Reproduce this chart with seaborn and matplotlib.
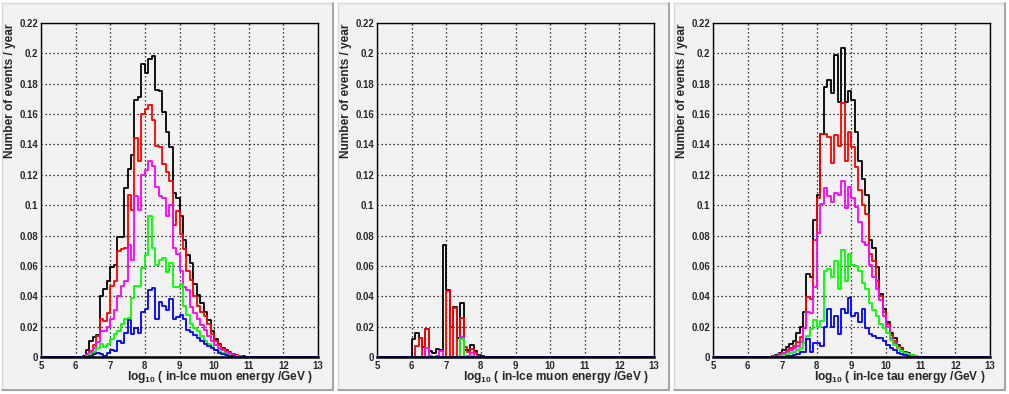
import numpy as np
import pandas as pd
import matplotlib
matplotlib.use("Agg")
import matplotlib.pyplot as plt
import seaborn as sns
from matplotlib.patches import Rectangle
from matplotlib.lines import Line2D
from matplotlib.ticker import MultipleLocator

# ---- data: events / year per 0.1 bin, bins start at log10(E)=6.0 ---- #
bin_start = 6.0
bin_width = 0.1

# panel 1: in-ice muon energy (nu_mu)
p1_black = [0.0, 0.0005, 0.001, 0.005, 0.0105, 0.0135, 0.0145, 0.040, 0.045, 0.050,
            0.0595, 0.061, 0.079, 0.079, 0.111, 0.124, 0.133, 0.169, 0.171, 0.193,
            0.187, 0.196, 0.198, 0.176, 0.175, 0.161, 0.148, 0.138, 0.108, 0.105,
            0.093, 0.077, 0.067, 0.062, 0.048, 0.041, 0.0355, 0.030, 0.0245, 0.017,
            0.012, 0.009, 0.006, 0.0048, 0.0033, 0.002, 0.0015, 0.001, 0.0006, 0.0003]
p1_red = [0.0, 0.0, 0.0005, 0.002, 0.004, 0.008, 0.014, 0.025, 0.024, 0.029,
          0.047, 0.050, 0.070, 0.071, 0.072, 0.107, 0.097, 0.144, 0.129, 0.160,
          0.163, 0.166, 0.156, 0.139, 0.138, 0.127, 0.122, 0.116, 0.087, 0.096,
          0.081, 0.071, 0.057, 0.051, 0.040, 0.034, 0.030, 0.027, 0.022, 0.015,
          0.011, 0.008, 0.0055, 0.004, 0.003, 0.002, 0.0012, 0.0008, 0.0004, 0.0002]
p1_magenta = [0.0, 0.0, 0.0003, 0.0015, 0.003, 0.006, 0.010, 0.017, 0.017, 0.020,
              0.025, 0.031, 0.040, 0.047, 0.050, 0.074, 0.064, 0.106, 0.097, 0.120,
              0.123, 0.129, 0.126, 0.112, 0.106, 0.105, 0.093, 0.100, 0.072, 0.068,
              0.057, 0.046, 0.044, 0.033, 0.029, 0.025, 0.021, 0.018, 0.014, 0.011,
              0.008, 0.006, 0.0045, 0.0033, 0.0025, 0.0015, 0.001, 0.0006, 0.0003, 0.0001]
p1_green = [0.0, 0.0, 0.0003, 0.001, 0.002, 0.0035, 0.006, 0.0085, 0.007, 0.009,
            0.012, 0.015, 0.017, 0.022, 0.025, 0.026, 0.039, 0.047, 0.047, 0.059,
            0.067, 0.093, 0.072, 0.061, 0.064, 0.065, 0.056, 0.062, 0.046, 0.046,
            0.048, 0.034, 0.028, 0.022, 0.019, 0.017, 0.014, 0.011, 0.009, 0.007,
            0.005, 0.004, 0.003, 0.002, 0.0015, 0.001, 0.0007, 0.0004, 0.0002, 0.0]
p1_blue = [0.0, 0.0, 0.0, 0.0005, 0.001, 0.002, 0.003, 0.002, 0.001, 0.003,
           0.005, 0.004, 0.0105, 0.0095, 0.016, 0.0245, 0.015, 0.019, 0.016, 0.030,
           0.0315, 0.0445, 0.0455, 0.0255, 0.0365, 0.034, 0.031, 0.0385, 0.0255, 0.0265,
           0.028, 0.025, 0.018, 0.0165, 0.0145, 0.0125, 0.011, 0.009, 0.0075, 0.006,
           0.0045, 0.003, 0.002, 0.0015, 0.001, 0.0006, 0.0003, 0.0, 0.0, 0.0]

# panel 2: in-ice muon energy (second channel)
p2_black = [0.012, 0.0158, 0.013, 0.0066, 0.0186, 0.0044, 0.0028, 0.0055, 0.0048, 0.0736,
            0.0442, 0.020, 0.033, 0.0124, 0.0357, 0.0045, 0.0045, 0.008, 0.0044, 0.0015,
            0.0009, 0.0005, 0.0003, 0.0002, 0.0001, 0.0, 0.0, 0.0, 0.0, 0.0,
            0.0, 0.0, 0.0, 0.0, 0.0, 0.0, 0.0, 0.0, 0.0, 0.0,
            0.0, 0.0, 0.0, 0.0, 0.0, 0.0, 0.0, 0.0, 0.0, 0.0]
p2_red = [0.0, 0.0074, 0.013, 0.0, 0.0183, 0.0005, 0.0005, 0.001, 0.0005, 0.0,
          0.0438, 0.0005, 0.0325, 0.0005, 0.0258, 0.007, 0.0035, 0.0055, 0.0025, 0.001,
          0.0008, 0.0005, 0.0002, 0.0, 0.0, 0.0, 0.0, 0.0, 0.0, 0.0,
          0.0, 0.0, 0.0, 0.0, 0.0, 0.0, 0.0, 0.0, 0.0, 0.0,
          0.0, 0.0, 0.0, 0.0, 0.0, 0.0, 0.0, 0.0, 0.0, 0.0]
p2_magenta = [0.0, 0.0, 0.0, 0.0, 0.006, 0.001, 0.0, 0.0, 0.0043, 0.0,
              0.0005, 0.0, 0.0, 0.0, 0.0135, 0.0, 0.001, 0.003, 0.0005, 0.0,
              0.0, 0.0, 0.0, 0.0, 0.0, 0.0, 0.0, 0.0, 0.0, 0.0,
              0.0, 0.0, 0.0, 0.0, 0.0, 0.0, 0.0, 0.0, 0.0, 0.0,
              0.0, 0.0, 0.0, 0.0, 0.0, 0.0, 0.0, 0.0, 0.0, 0.0]
p2_green = [0.0, 0.0, 0.0, 0.0, 0.0, 0.0, 0.0, 0.0005, 0.0005, 0.0,
            0.0, 0.0, 0.0, 0.0, 0.0123, 0.0, 0.0, 0.001, 0.0, 0.0,
            0.0, 0.0, 0.0, 0.0005, 0.0, 0.0, 0.0, 0.0, 0.0, 0.0,
            0.0, 0.0, 0.0, 0.0, 0.0, 0.0, 0.0, 0.0, 0.0, 0.0,
            0.0, 0.0, 0.0, 0.0, 0.0, 0.0, 0.0, 0.0, 0.0, 0.0]
p2_blue = [0.0, 0.0, 0.0, 0.0, 0.0, 0.0, 0.0, 0.0, 0.0, 0.0,
           0.0, 0.0, 0.0, 0.0, 0.0, 0.0, 0.0, 0.0, 0.0, 0.0,
           0.0008, 0.0004, 0.0, 0.0, 0.0, 0.0, 0.0, 0.0, 0.0, 0.0,
           0.0, 0.0, 0.0, 0.0, 0.0, 0.0, 0.0, 0.0, 0.0, 0.0,
           0.0, 0.0, 0.0, 0.0, 0.0, 0.0, 0.0, 0.0, 0.0, 0.0]

# panel 3: in-ice tau energy
p3_black = [0.0, 0.0, 0.0, 0.0, 0.0001, 0.0003, 0.0005, 0.0008, 0.0015, 0.003,
            0.005, 0.0065, 0.0085, 0.011, 0.016, 0.020, 0.030, 0.0545, 0.0525, 0.090,
            0.107, 0.147, 0.178, 0.182, 0.174, 0.199, 0.168, 0.2035, 0.168, 0.175,
            0.169, 0.148, 0.129, 0.117, 0.107, 0.077, 0.072, 0.0595, 0.0414, 0.032,
            0.0234, 0.0157, 0.0125, 0.008, 0.006, 0.0037, 0.0026, 0.0015, 0.0008, 0.0004]
p3_red = [0.0, 0.0, 0.0, 0.0, 0.0, 0.0, 0.0002, 0.0005, 0.001, 0.002,
          0.003, 0.0045, 0.006, 0.0075, 0.010, 0.0135, 0.0195, 0.0395, 0.0385, 0.077,
          0.105, 0.147, 0.147, 0.145, 0.128, 0.146, 0.139, 0.167, 0.129, 0.148,
          0.138, 0.125, 0.110, 0.100, 0.094, 0.068, 0.063, 0.050, 0.040, 0.030,
          0.022, 0.0145, 0.011, 0.0072, 0.0052, 0.0033, 0.0022, 0.0013, 0.0007, 0.0003]
p3_magenta = [0.0, 0.0, 0.0, 0.0, 0.0, 0.0002, 0.0004, 0.0006, 0.001, 0.0015,
              0.0025, 0.0035, 0.0045, 0.006, 0.0075, 0.010, 0.019, 0.0295, 0.029, 0.046,
              0.082, 0.101, 0.111, 0.106, 0.102, 0.108, 0.107, 0.116, 0.098, 0.112,
              0.105, 0.099, 0.089, 0.076, 0.074, 0.061, 0.053, 0.045, 0.038, 0.027,
              0.020, 0.013, 0.0095, 0.0062, 0.0042, 0.0028, 0.0018, 0.001, 0.0005, 0.0002]
p3_green = [0.0, 0.0, 0.0, 0.0, 0.0, 0.0001, 0.0002, 0.0003, 0.0005, 0.0008,
            0.0012, 0.0018, 0.0025, 0.0035, 0.0045, 0.006, 0.0095, 0.014, 0.0185, 0.0245,
            0.020, 0.024, 0.057, 0.058, 0.053, 0.063, 0.045, 0.0705, 0.050, 0.068,
            0.0605, 0.060, 0.057, 0.049, 0.045, 0.036, 0.031, 0.027, 0.022, 0.019,
            0.016, 0.0115, 0.008, 0.006, 0.004, 0.003, 0.002, 0.0012, 0.0007, 0.0003]
p3_blue = [0.0, 0.0, 0.0, 0.0, 0.0, 0.0, 0.0, 0.0, 0.0, 0.0003,
           0.0005, 0.0008, 0.001, 0.0015, 0.002, 0.0037, 0.0035, 0.012, 0.0037, 0.0095,
           0.0095, 0.0075, 0.020, 0.032, 0.020, 0.027, 0.0155, 0.032, 0.029, 0.039,
           0.027, 0.029, 0.023, 0.032, 0.019, 0.015, 0.014, 0.013, 0.0125, 0.011,
           0.008, 0.006, 0.0045, 0.003, 0.002, 0.0013, 0.0008, 0.0005, 0.0003, 0.0]

x_titles = ["log$_{10}$ ( in-Ice muon energy /GeV )",
            "log$_{10}$ ( in-Ice muon energy /GeV )",
            "log$_{10}$ ( in-Ice tau energy /GeV )"]
y_title = "Number of events / year"

colors = ["#000000", "#ff0000", "#ff00ff", "#00ff00", "#0000ff"]
panel_series = [
    [p1_black, p1_red, p1_magenta, p1_green, p1_blue],
    [p2_black, p2_red, p2_magenta, p2_green, p2_blue],
    [p3_black, p3_red, p3_magenta, p3_green, p3_blue],
]

# ---- style ---- #
sns.set_style("white")
plt.rcParams["font.family"] = ["Liberation Sans", "DejaVu Sans"]
plt.rcParams["font.weight"] = "bold"
plt.rcParams["mathtext.fontset"] = "custom"
plt.rcParams["mathtext.rm"] = "Liberation Sans:bold"
plt.rcParams["mathtext.default"] = "rm"

W, H = 1009, 394
fig = plt.figure(figsize=(W / 100, H / 100), dpi=100, facecolor="white")
pad_col = "#f2f2f2"
edges = [round(5 + 0.1 * k, 2) for k in range(81)]

for i, series in enumerate(panel_series):
    x0 = 336 * i
    # pad background with a bevelled border (behind the axes)
    fig.patches.append(Rectangle(((x0 + 2) / W, 1 - 390 / H), 331 / W, 387 / H,
                                 transform=fig.transFigure, facecolor=pad_col,
                                 edgecolor="#d8d8d8", linewidth=1, zorder=-10))
    fig.lines.append(Line2D([(x0 + 2) / W, (x0 + 333) / W, (x0 + 333) / W],
                            [1 - 390 / H, 1 - 390 / H, 1 - 3 / H],
                            transform=fig.transFigure, color="#9a9a9a",
                            linewidth=1.2, zorder=-9))

    ax = fig.add_axes([(x0 + 41) / W, 1 - 357.3 / H, 277 / W, 334.6 / H])
    ax.set_facecolor(pad_col)

    for vals, c in zip(series, colors):
        centers = bin_start + bin_width * (np.arange(len(vals)) + 0.5)
        df = pd.DataFrame({"energy": centers, "rate": vals})
        sns.histplot(data=df, x="energy", weights="rate", bins=edges,
                     element="step", fill=False, color=c, linewidth=1.3, ax=ax)

    ax.set_xlim(5, 13)
    ax.set_ylim(0, 0.22)
    ax.set_xlabel("")
    ax.set_ylabel("")
    ax.xaxis.set_major_locator(MultipleLocator(1))
    ax.xaxis.set_minor_locator(MultipleLocator(0.1))
    yt = np.round(np.arange(0, 0.2201, 0.02), 2)
    ax.set_yticks(yt)
    ax.set_yticklabels(["0" if v == 0 else f"{v:g}" for v in yt])
    ax.yaxis.set_minor_locator(MultipleLocator(0.0025))
    ax.tick_params(axis="both", which="both", direction="in", top=False, right=False,
                   labelsize=6.9, width=0.8, color="black")
    ax.tick_params(axis="x", which="major", length=8, pad=2.5)
    ax.tick_params(axis="x", which="minor", length=3.5)
    ax.tick_params(axis="y", which="major", length=7, pad=2)
    ax.tick_params(axis="y", which="minor", length=3.5)
    ax.grid(True, which="major", color="black", linestyle=(0, (1, 2.2)), linewidth=0.9)
    for s in ax.spines.values():
        s.set_color("black")
        s.set_linewidth(1.0)
        s.set_zorder(5)
    # thicker frame bottom hides the empty-bin steps lying on zero
    ax.spines["bottom"].set_linewidth(1.8)
    for lab in ax.get_xticklabels() + ax.get_yticklabels():
        lab.set_fontweight("bold")

    fig.text((x0 + 313) / W, 1 - 377 / H, x_titles[i], ha="right", va="center",
             fontsize=8.6, fontweight="bold")
    fig.text((x0 + 10) / W, 1 - 24 / H, y_title, rotation=90, ha="center", va="top",
             fontsize=8.6, fontweight="bold")

fig.savefig("out.png", dpi=100, facecolor="white")
